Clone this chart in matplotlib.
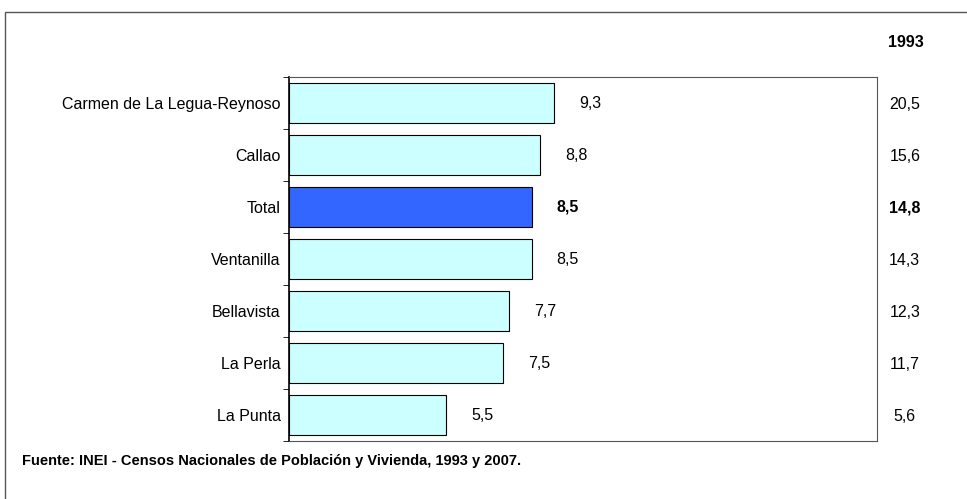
import matplotlib.pyplot as plt
from matplotlib.patches import Rectangle

# Data
distritos = ["Carmen de La Legua-Reynoso", "Callao", "Total", "Ventanilla",
             "Bellavista", "La Perla", "La Punta"]
val_2007 = [9.3, 8.8, 8.5, 8.5, 7.7, 7.5, 5.5]
val_1993 = [20.5, 15.6, 14.8, 14.3, 12.3, 11.7, 5.6]
etiq_2007 = ["9,3", "8,8", "8,5", "8,5", "7,7", "7,5", "5,5"]
etiq_1993 = ["20,5", "15,6", "14,8", "14,3", "12,3", "11,7", "5,6"]

plt.rcParams["font.family"] = ["Liberation Sans", "DejaVu Sans"]

fig = plt.figure(figsize=(9.67, 4.99), dpi=100)
ax = fig.add_axes([289 / 967, 1 - 441 / 499, 588 / 967, 364 / 499])

colors = ["#3366FF" if d == "Total" else "#CCFFFF" for d in distritos]
y = list(range(len(distritos)))
ax.barh(y, val_2007, height=0.78, color=colors, edgecolor="black", linewidth=0.8)
ax.set_ylim(len(distritos) - 0.5, -0.5)
ax.set_xlim(0, 20.6)

for i, (v, lab) in enumerate(zip(val_2007, etiq_2007)):
    bold = distritos[i] == "Total"
    ax.annotate(lab, (v, i), xytext=(26, 0), textcoords="offset points",
                ha="center", va="center", fontsize=11.5,
                fontweight="bold" if bold else "normal")

for i, lab in enumerate(etiq_1993):
    bold = distritos[i] == "Total"
    ax.annotate(lab, (1, i), xycoords=("axes fraction", "data"),
                xytext=(20, -1), textcoords="offset points",
                ha="center", va="center", fontsize=11.5,
                fontweight="bold" if bold else "normal")
ax.annotate("1993", (1, 1), xycoords="axes fraction", xytext=(21, 25),
            textcoords="offset points", ha="center", va="center",
            fontsize=11.5, fontweight="bold")

ax.set_yticks(y)
ax.set_yticklabels(distritos, fontsize=11.5)
ax.set_yticks([i + 0.5 for i in range(-1, len(distritos))], minor=True)
ax.tick_params(axis="y", which="major", length=0, pad=6)
ax.tick_params(axis="y", which="minor", length=4, direction="out")
ax.set_xticks([])
for s in ["top", "right", "bottom"]:
    ax.spines[s].set_color("#555555")
    ax.spines[s].set_linewidth(0.8)
ax.spines["left"].set_linewidth(1.2)

fig.patches.append(Rectangle((5 / 967, -0.05), 1.1, 1 - 12 / 499 + 0.05,
                             transform=fig.transFigure, fill=False,
                             edgecolor="#555555", linewidth=1))

fig.text(22 / 967, 1 - 461 / 499, "Fuente: INEI - Censos Nacionales de Población y Vivienda, 1993 y 2007.",
         fontsize=10.5, fontweight="bold", va="center", ha="left")

fig.savefig("out.png", dpi=100)
